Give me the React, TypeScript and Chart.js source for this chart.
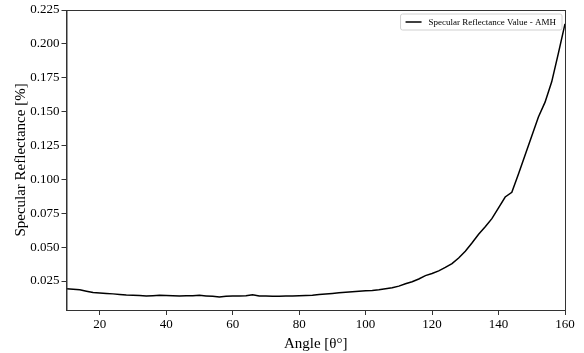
import React, { useEffect, useRef } from "react";
import { Chart, registerables } from "chart.js";

Chart.register(...registerables);

const angles: number[] = [
  10, 12, 14, 16, 18, 20, 22, 24, 26, 28, 30, 32, 34, 36, 38, 40, 42, 44, 46, 48,
  50, 52, 54, 56, 58, 60, 62, 64, 66, 68, 70, 72, 74, 76, 78, 80, 82, 84, 86, 88,
  90, 92, 94, 96, 98, 100, 102, 104, 106, 108, 110, 112, 114, 116, 118, 120, 122,
  124, 126, 128, 130, 132, 134, 136, 138, 140, 142, 144, 146, 148, 150, 152, 154,
  156, 158, 160,
];

const reflectance: number[] = [
  0.0193, 0.019, 0.0186, 0.0175, 0.0165, 0.0162, 0.0158, 0.0155, 0.015, 0.0146,
  0.0145, 0.0143, 0.0139, 0.0141, 0.0144, 0.0143, 0.0141, 0.0139, 0.0141, 0.0142,
  0.0144, 0.014, 0.0137, 0.0132, 0.0138, 0.0139, 0.014, 0.0142, 0.0149, 0.014,
  0.0139, 0.0138, 0.0138, 0.0139, 0.014, 0.0141, 0.0143, 0.0145, 0.015, 0.0154,
  0.0158, 0.0163, 0.0167, 0.0171, 0.0175, 0.0178, 0.018, 0.0185, 0.0192, 0.02,
  0.0212, 0.023, 0.0245, 0.0265, 0.029, 0.0305, 0.0325, 0.035, 0.0378, 0.042,
  0.047, 0.053, 0.0595, 0.065, 0.071, 0.079, 0.087, 0.0905, 0.104, 0.118, 0.132,
  0.146, 0.157, 0.172, 0.193, 0.2148,
];

const xTicks: number[] = [20, 40, 60, 80, 100, 120, 140, 160];
const yTicks: number[] = [0.025, 0.05, 0.075, 0.1, 0.125, 0.15, 0.175, 0.2, 0.225];

const seriesLabel = "Specular Reflectance Value - AMH";
const xTitle = "Angle [θ°]";
const yTitle = "Specular Reflectance [%]";

const FONT = "'Liberation Serif', 'DejaVu Serif', serif";

const framePlugin = {
  id: "frame",
  afterDraw(chart: any) {
    const { ctx, chartArea } = chart;
    const { left, right, top, bottom } = chartArea;
    ctx.save();
    ctx.strokeStyle = "#333";
    ctx.lineWidth = 1;
    ctx.strokeRect(left + 0.5, top + 0.5, right - left, bottom - top);

    // legend box
    ctx.font = `9px ${FONT}`;
    const tw = ctx.measureText(seriesLabel).width;
    const boxW = tw + 34;
    const boxH = 16;
    const bx = right - 3 - boxW;
    const by = top + 4;
    ctx.fillStyle = "rgba(255,255,255,0.85)";
    ctx.strokeStyle = "#d0d0d0";
    ctx.beginPath();
    const r = 2;
    ctx.moveTo(bx + r, by);
    ctx.lineTo(bx + boxW - r, by);
    ctx.quadraticCurveTo(bx + boxW, by, bx + boxW, by + r);
    ctx.lineTo(bx + boxW, by + boxH - r);
    ctx.quadraticCurveTo(bx + boxW, by + boxH, bx + boxW - r, by + boxH);
    ctx.lineTo(bx + r, by + boxH);
    ctx.quadraticCurveTo(bx, by + boxH, bx, by + boxH - r);
    ctx.lineTo(bx, by + r);
    ctx.quadraticCurveTo(bx, by, bx + r, by);
    ctx.closePath();
    ctx.fill();
    ctx.stroke();
    ctx.strokeStyle = "#000";
    ctx.lineWidth = 1.5;
    ctx.beginPath();
    ctx.moveTo(bx + 5, by + boxH / 2);
    ctx.lineTo(bx + 21, by + boxH / 2);
    ctx.stroke();
    ctx.fillStyle = "#000";
    ctx.textBaseline = "middle";
    ctx.textAlign = "left";
    ctx.fillText(seriesLabel, bx + 28, by + boxH / 2 + 0.5);
    ctx.restore();
  },
};

export default function App() {
  const ref = useRef<HTMLCanvasElement | null>(null);
  useEffect(() => {
    document.body.style.margin = "0";
    const canvas = ref.current;
    if (!canvas) return;
    const chart = new Chart(canvas, {
      type: "line",
      data: {
        datasets: [
          {
            label: seriesLabel,
            data: angles.map((a, i) => ({ x: a, y: reflectance[i] })),
            borderColor: "#000",
            borderWidth: 1.5,
            pointRadius: 0,
            tension: 0,
            fill: false,
          },
        ],
      },
      options: {
        responsive: false,
        animation: false,
        layout: { padding: { left: 0, right: 19, top: 10, bottom: 0 } },
        plugins: {
          legend: { display: false },
          tooltip: { enabled: false },
        },
        scales: {
          x: {
            type: "linear",
            min: 10,
            max: 160,
            afterBuildTicks: (axis: any) => {
              axis.ticks = xTicks.map((v) => ({ value: v }));
            },
            afterFit: (scale: any) => {
              scale.height = 43;
            },
            grid: {
              display: true,
              drawOnChartArea: false,
              drawTicks: true,
              tickLength: 5,
              color: "#333",
            },
            border: { display: true, color: "#333" },
            ticks: {
              color: "#000",
              padding: 2,
              maxRotation: 0,
              font: { family: FONT, size: 13 },
              callback: (v: any) => String(v),
            },
            title: {
              display: true,
              text: xTitle,
              color: "#000",
              font: { family: FONT, size: 15 },
              padding: { top: 0, bottom: 0 },
            },
          },
          y: {
            type: "linear",
            min: 0.0036,
            max: 0.225,
            afterBuildTicks: (axis: any) => {
              axis.ticks = yTicks.map((v) => ({ value: v }));
            },
            afterFit: (scale: any) => {
              scale.width = 66.5;
            },
            grid: {
              display: true,
              drawOnChartArea: false,
              drawTicks: true,
              tickLength: 5,
              color: "#333",
            },
            border: { display: true, color: "#333" },
            ticks: {
              color: "#000",
              padding: 2,
              font: { family: FONT, size: 13 },
              callback: (v: any) => Number(v).toFixed(3),
            },
            title: {
              display: true,
              text: yTitle,
              color: "#000",
              font: { family: FONT, size: 15 },
              padding: { top: 12, bottom: 0 },
            },
          },
        },
      },
      plugins: [framePlugin],
    });
    return () => chart.destroy();
  }, []);
  return (
    <canvas
      ref={ref}
      width={584}
      height={353}
      style={{ display: "block", width: 584, height: 353 }}
    />
  );
}
